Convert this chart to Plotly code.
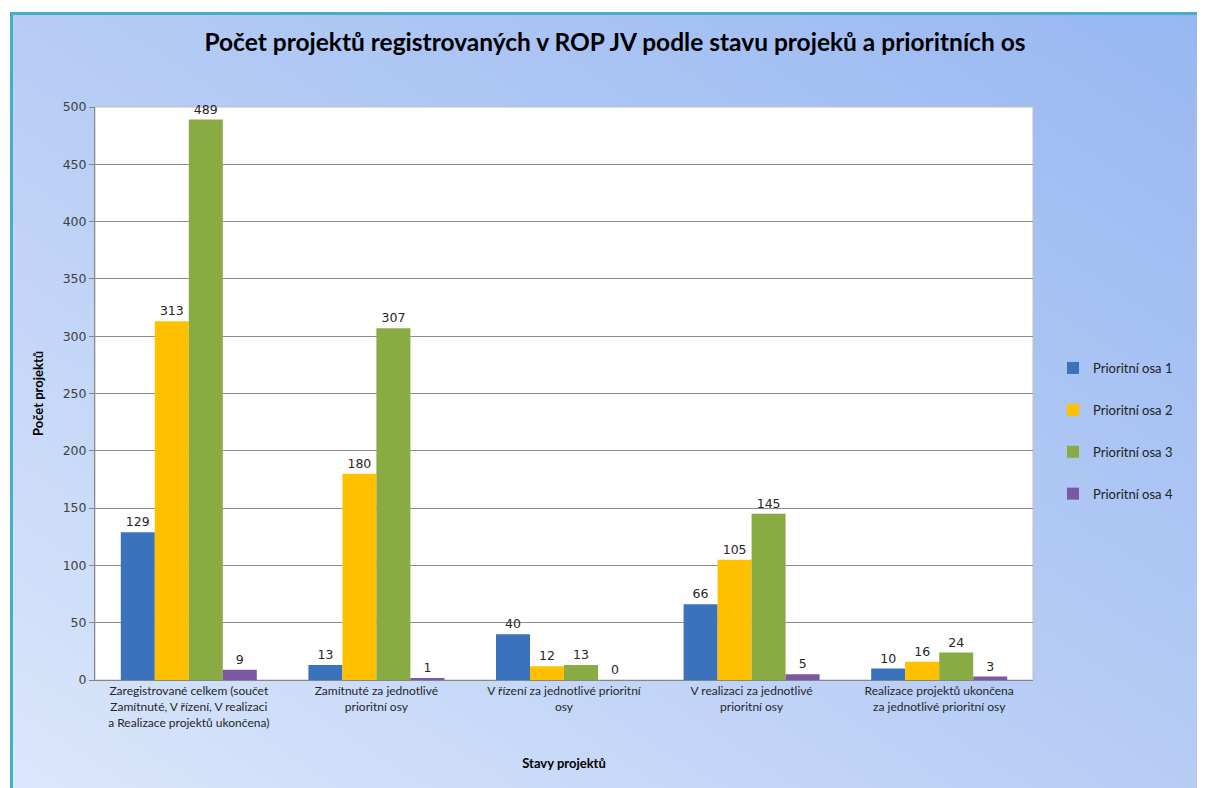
import base64
import plotly.graph_objects as go

categories = [
    "Zaregistrované celkem (součet<br>Zamítnuté, V řízení, V realizaci<br>a Realizace projektů ukončena)",
    "Zamítnuté za jednotlivé<br>prioritní osy",
    "V řízení za jednotlivé prioritní<br>osy",
    "V realizaci za jednotlivé<br>prioritní osy",
    "Realizace projektů ukončena<br>za jednotlivé prioritní osy",
]
series_names = ["Prioritní osa 1", "Prioritní osa 2", "Prioritní osa 3", "Prioritní osa 4"]
osa1 = [129, 13, 40, 66, 10]
osa2 = [313, 180, 12, 105, 16]
osa3 = [489, 307, 13, 145, 24]
osa4 = [9, 1, 0, 5, 3]
series_values = [osa1, osa2, osa3, osa4]
colors = ["#3a72bb", "#ffc000", "#89ab43", "#7a58a3"]

FONT = "Lato"
NUMFONT = "DejaVu Sans"

fig = go.Figure()
for i, (name, vals) in enumerate(zip(series_names, series_values)):
    fig.add_trace(go.Bar(
        x=categories, y=vals, name=name,
        marker=dict(color=colors[i], line=dict(width=0)),
        text=[str(v) for v in vals], textposition="outside",
        textfont=dict(size=12.5, color="#262626", family=NUMFONT),
        cliponaxis=False, legendgroup=name,
    ))

svg = (
    '<svg xmlns="http://www.w3.org/2000/svg" width="100" height="100" preserveAspectRatio="none">'
    '<defs><linearGradient id="g" x1="1" y1="0" x2="0" y2="1">'
    '<stop offset="0" stop-color="#98b7f1"/>'
    '<stop offset="0.5" stop-color="#b6ccf5"/>'
    '<stop offset="1" stop-color="#dbe7fb"/>'
    '</linearGradient></defs>'
    '<rect width="100" height="100" fill="url(#g)"/></svg>'
)
bg_uri = "data:image/svg+xml;base64," + base64.b64encode(svg.encode()).decode()

O = 8  # page body margin
W, H = 1205, 788
L, R, T, B = 95 - O, 1205 - 1033 + O, 107 - O, 788 - 680 + O
pw, ph = W - L - R, H - T - B
def px(x):
    return (x - O - L) / pw
def py(y):
    return (H - B - (y - O)) / ph

fig.update_layout(
    width=W, height=H,
    margin=dict(l=L, r=R, t=T, b=B, autoexpand=False),
    paper_bgcolor="#b3c9f3",
    plot_bgcolor="rgba(0,0,0,0)",
    barmode="group", bargap=0.275, bargroupgap=0,
    font=dict(family=FONT, size=13, color="#262626"),
    title=dict(text="<b>Počet projektů registrovaných v ROP JV podle stavu projeků a prioritních os</b>",
               x=(615 - O) / W, xanchor="center", y=1 - (42 - O) / H, yanchor="middle",
               font=dict(size=24.5, color="#000000", family=FONT)),
    legend=dict(x=px(1053), y=py(431), xanchor="left", yanchor="middle",
                font=dict(size=13, color="#222222", family=FONT),
                tracegroupgap=22, bgcolor="rgba(0,0,0,0)"),
    xaxis=dict(showgrid=False, showline=True, linecolor="#868686", linewidth=1,
               tickfont=dict(size=12, color="#262626"),
               title=dict(text="<b>Stavy projektů</b>", font=dict(size=13, color="#000000"), standoff=30)),
    yaxis=dict(range=[0, 500], dtick=50, showgrid=True, gridcolor="#8c8c8c", gridwidth=1,
               showline=True, linecolor="#868686", ticks="outside", ticklen=5, tickcolor="#868686",
               tickfont=dict(size=12.5, color="#404040", family=NUMFONT), zeroline=False,
               title=dict(text="<b>Počet projektů</b>", font=dict(size=13, color="#000000"), standoff=16)),
    images=[dict(source=bg_uri, xref="paper", yref="paper",
                 x=px(12), y=py(13), sizex=px(1205 + 10) - px(12), sizey=py(13) - py(788 + 10),
                 xanchor="left", yanchor="top", sizing="stretch", layer="below")],
    shapes=[
        dict(type="rect", xref="x domain", yref="y domain", x0=0, x1=1, y0=0, y1=1,
             fillcolor="white", line=dict(color="#bfbfbf", width=1), layer="below"),
        dict(type="rect", xref="paper", yref="paper", x0=px(-20), x1=px(10), y0=py(-20), y1=py(820),
             fillcolor="white", line=dict(width=0), layer="below"),
        dict(type="rect", xref="paper", yref="paper", x0=px(-20), x1=px(1230), y0=py(-20), y1=py(12),
             fillcolor="white", line=dict(width=0), layer="below"),
        dict(type="line", xref="paper", yref="paper", x0=px(10), x1=px(1230), y0=py(13.5), y1=py(13.5),
             line=dict(color="#4bacc6", width=3)),
        dict(type="line", xref="paper", yref="paper", x0=px(11.5), x1=px(11.5), y0=py(12), y1=py(820),
             line=dict(color="#4bacc6", width=3)),
    ],
)

fig.write_html("out.html")
